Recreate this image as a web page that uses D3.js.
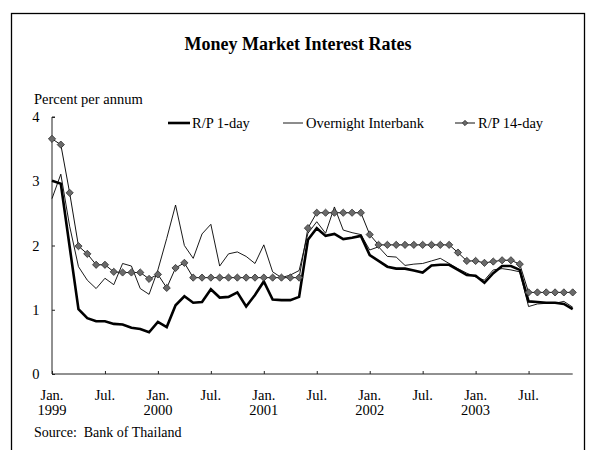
<!DOCTYPE html>
<html>
<head>
<meta charset="utf-8">
<script src="https://cdn.jsdelivr.net/npm/d3@7"></script>
<style>
  html, body { margin: 0; padding: 0; background: #fff; }
  svg { display: block; }
  text { font-family: "Liberation Serif", "Times New Roman", serif; fill: #000; }
</style>
</head>
<body>
<svg id="chart" width="595" height="450"></svg>
<script>
// Monthly averages, Jan 1999 .. Dec 2003 (percent per annum)
const firstMonth = "1999-01";
const rp1day = [
  3.01, 2.96, 1.98, 1.01, 0.87, 0.82, 0.82, 0.78, 0.77, 0.72, 0.70, 0.65,
  0.81, 0.73, 1.07, 1.21, 1.11, 1.12, 1.32, 1.19, 1.20, 1.27, 1.05, 1.23,
  1.44, 1.16, 1.15, 1.15, 1.20, 2.09, 2.27, 2.15, 2.18, 2.10, 2.12, 2.15,
  1.85, 1.76, 1.67, 1.64, 1.64, 1.61, 1.58, 1.69, 1.70, 1.70, 1.62, 1.54,
  1.53, 1.42, 1.57, 1.68, 1.68, 1.62, 1.13, 1.12, 1.11, 1.11, 1.09, 1.01
];
const overnight = [
  2.73, 3.11, 2.30, 1.67, 1.46, 1.33, 1.49, 1.39, 1.72, 1.68, 1.33, 1.24,
  1.62, 2.11, 2.63, 2.00, 1.80, 2.18, 2.33, 1.68, 1.87, 1.90, 1.83, 1.72,
  2.01, 1.59, 1.50, 1.54, 1.61, 2.19, 2.37, 2.19, 2.60, 2.24, 2.20, 2.17,
  1.93, 1.98, 1.83, 1.82, 1.69, 1.71, 1.72, 1.76, 1.80, 1.72, 1.64, 1.57,
  1.51, 1.46, 1.62, 1.64, 1.62, 1.59, 1.05, 1.09, 1.10, 1.10, 1.13, 1.04
];
const rp14day = [
  3.66, 3.57, 2.82, 1.99, 1.87, 1.70, 1.70, 1.59, 1.58, 1.58, 1.58, 1.48,
  1.55, 1.34, 1.65, 1.73, 1.50, 1.50, 1.50, 1.50, 1.50, 1.50, 1.50, 1.50,
  1.50, 1.50, 1.50, 1.50, 1.50, 2.27, 2.51, 2.51, 2.51, 2.51, 2.51, 2.51,
  2.17, 2.01, 2.01, 2.01, 2.01, 2.01, 2.01, 2.01, 2.01, 2.01, 1.89, 1.76,
  1.76, 1.73, 1.75, 1.77, 1.77, 1.71, 1.27, 1.27, 1.27, 1.27, 1.27, 1.27
];
const seriesNames = ["R/P 1-day", "Overnight Interbank", "R/P 14-day"];
const tickMonthLabels = ["Jan.", "Jul."];
const tickYearLabels = ["1999", "2000", "2001", "2002", "2003"];
const yTicks = [0, 1, 2, 3, 4];

const parseMonth = d3.timeParse("%Y-%m");
const months = d3.timeMonth.range(parseMonth(firstMonth),
  d3.timeMonth.offset(parseMonth(firstMonth), rp1day.length));
const keys = months.map(d3.timeFormat("%Y-%m"));

const svg = d3.select("#chart");

// outer frame
svg.append("rect")
  .attr("x", 11.5).attr("y", 13.5).attr("width", 573).attr("height", 460)
  .attr("fill", "none").attr("stroke", "#000").attr("stroke-width", 1.3);

svg.append("text")
  .attr("x", 298).attr("y", 50)
  .attr("text-anchor", "middle")
  .style("font-size", "18px").style("font-weight", "bold")
  .text("Money Market Interest Rates");

svg.append("text")
  .attr("x", 34).attr("y", 103.5)
  .style("font-size", "14.5px")
  .text("Percent per annum");

const x = d3.scalePoint().domain(keys).range([52, 572.7]);
const y = d3.scaleLinear().domain([0, 4]).range([374, 117]);

// y axis with short inward ticks
const yAxis = svg.append("g").attr("transform", "translate(52,0)")
  .call(d3.axisRight(y).tickValues(yTicks).tickSize(3).tickFormat(""));
yAxis.select(".domain").attr("d", `M3,${y(4)}H0V${y(0)}`);
yAxis.selectAll("line,path").attr("stroke", "#222").attr("stroke-width", 1);
svg.append("g").selectAll("text").data(yTicks).join("text")
  .attr("x", 39.5).attr("y", d => y(d))
  .attr("dy", "0.35em").attr("text-anchor", "end")
  .style("font-size", "14.5px")
  .text(d => d);

// x axis: ticks every January and July
const tickKeys = keys.filter(k => k.endsWith("-01") || k.endsWith("-07"));
const xAxis = svg.append("g").attr("transform", `translate(0,${y(0)})`)
  .call(d3.axisTop(x).tickValues(tickKeys).tickSize(3).tickFormat(""));
xAxis.select(".domain").attr("d", `M52,0H572.7`);
xAxis.selectAll("line,path").attr("stroke", "#222").attr("stroke-width", 1);

const labels = svg.append("g").selectAll("g").data(tickKeys).join("g")
  .attr("transform", d => `translate(${x(d)},0)`);
labels.append("text")
  .attr("y", 399.5).attr("text-anchor", "middle")
  .style("font-size", "14.5px")
  .text(d => d.endsWith("-01") ? tickMonthLabels[0] : tickMonthLabels[1]);
labels.filter(d => d.endsWith("-01")).append("text")
  .attr("y", 415).attr("text-anchor", "middle")
  .style("font-size", "14.5px")
  .text(d => tickYearLabels[+d.slice(0, 4) - 1999]);

svg.append("text")
  .attr("x", 34).attr("y", 437)
  .style("font-size", "14px")
  .attr("xml:space", "preserve")
  .text("Source:  Bank of Thailand");

const line = d3.line().x((d, i) => x(keys[i])).y(d => y(d));

svg.append("path").datum(overnight).attr("d", line)
  .attr("fill", "none").attr("stroke", "#000").attr("stroke-width", 0.9);
svg.append("path").datum(rp14day).attr("d", line)
  .attr("fill", "none").attr("stroke", "#111").attr("stroke-width", 1);
svg.append("path").datum(rp1day).attr("d", line)
  .attr("fill", "none").attr("stroke", "#000").attr("stroke-width", 2.6);

// rhombus markers: squares turned 45 degrees
const marker = d3.symbol().type(d3.symbolSquare).size(26);
svg.append("g").selectAll("path").data(rp14day).join("path")
  .attr("transform", (d, i) => `translate(${x(keys[i])},${y(d)}) rotate(45)`)
  .attr("d", marker)
  .attr("fill", "#6a6a6a").attr("stroke", "#333").attr("stroke-width", 0.8);

// legend
const legY = 123;
const leg = svg.append("g");
leg.append("line").attr("x1", 168).attr("x2", 190).attr("y1", legY).attr("y2", legY)
  .attr("stroke", "#000").attr("stroke-width", 2.6);
leg.append("text").attr("x", 192).attr("y", legY + 4.5).style("font-size", "14.5px").text(seriesNames[0]);
leg.append("line").attr("x1", 283).attr("x2", 303).attr("y1", legY).attr("y2", legY)
  .attr("stroke", "#000").attr("stroke-width", 0.9);
leg.append("text").attr("x", 306).attr("y", legY + 4.5).style("font-size", "14.5px").text(seriesNames[1]);
leg.append("line").attr("x1", 455).attr("x2", 475).attr("y1", legY).attr("y2", legY)
  .attr("stroke", "#111").attr("stroke-width", 1);
leg.append("path").attr("transform", `translate(465,${legY}) rotate(45)`)
  .attr("d", d3.symbol().type(d3.symbolSquare).size(14))
  .attr("fill", "#6a6a6a").attr("stroke", "#333").attr("stroke-width", 0.8);
leg.append("text").attr("x", 478).attr("y", legY + 4.5).style("font-size", "14.5px").text(seriesNames[2]);
</script>
</body>
</html>
